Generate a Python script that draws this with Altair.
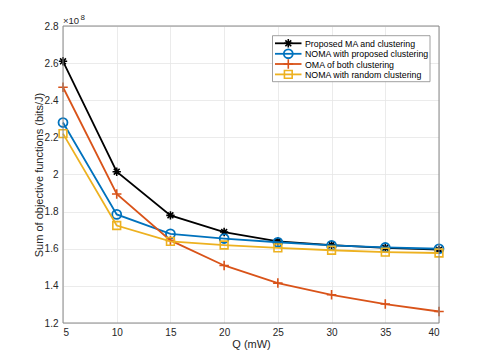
import altair as alt
import pandas as pd

Q = [5, 10, 15, 20, 25, 30, 35, 40]
proposed_ma = [2.61, 2.015, 1.78, 1.69, 1.64, 1.62, 1.605, 1.595]
noma_proposed = [2.28, 1.785, 1.68, 1.655, 1.635, 1.618, 1.607, 1.60]
oma_both = [2.47, 1.895, 1.645, 1.51, 1.415, 1.352, 1.302, 1.262]
noma_random = [2.22, 1.725, 1.64, 1.62, 1.605, 1.592, 1.582, 1.577]

names = ["Proposed MA and clustering", "NOMA with proposed clustering",
         "OMA of both clustering", "NOMA with random clustering"]
series_vals = [proposed_ma, noma_proposed, oma_both, noma_random]
colors = ["#000000", "#0072BD", "#D95319", "#EDB120"]

ASTER = "M-1,0L1,0M0,-1L0,1M-0.7,-0.7L0.7,0.7M-0.7,0.7L0.7,-0.7"
PLUS = "M-1,0L1,0M0,-1L0,1"
shapes = [ASTER, "circle", PLUS, "square"]
sizes = [70, 80, 90, 60]
stroke_w = [1.6, 1.8, 1.6, 1.6]

rows = []
for n, vals in zip(names, series_vals):
    for q, v in zip(Q, vals):
        rows.append({"Q": q, "val": v, "series": n})
df = pd.DataFrame(rows)

FONT = "Liberation Sans"
xs = alt.X("Q:Q", scale=alt.Scale(domain=[5, 40], nice=False),
           axis=alt.Axis(values=list(range(5, 41, 5)), title="Q (mW)",
                         labelFontSize=10, titleFontSize=11, labelPadding=4,
                         titlePadding=1, titleFontWeight="normal",
                         grid=True, ticks=False, domain=False,
                         labelColor="#262626", titleColor="#262626",
                         labelFont=FONT, titleFont=FONT))
ys = alt.Y("val:Q", scale=alt.Scale(domain=[1.2, 2.8], nice=False, zero=False),
           axis=alt.Axis(values=[1.2, 1.4, 1.6, 1.8, 2.0, 2.2, 2.4, 2.6, 2.8],
                         format="~g", title="Sum of objective functions (bits/J)",
                         labelFontSize=10, titleFontSize=11, labelPadding=5,
                         titlePadding=0, titleFontWeight="normal",
                         grid=True, ticks=False, domain=False,
                         labelColor="#262626", titleColor="#262626",
                         labelFont=FONT, titleFont=FONT))

layers = []
for i, n in enumerate(names):
    base = alt.Chart(df).transform_filter(alt.datum.series == n)
    line = base.mark_line(color=colors[i], strokeWidth=1.8).encode(x=xs, y=ys)
    pts = base.mark_point(shape=shapes[i], size=sizes[i], filled=False,
                          stroke=colors[i], strokeWidth=stroke_w[i], opacity=1).encode(x=xs, y=ys)
    layers += [line, pts]

# box frame
frame = alt.Chart(pd.DataFrame({"a": [0]})).mark_rect(
    fill=None, stroke="#888888", strokeWidth=1).encode(
    x=alt.value(0), x2=alt.value(376), y=alt.value(0), y2=alt.value(297))

# legend
lx0, lx1, ly0, ly1 = 209.5, 367, 9.7, 55.7
leg_box = alt.Chart(pd.DataFrame({"a": [0]})).mark_rect(
    fill="white", stroke="#888888", strokeWidth=0.8).encode(
    x=alt.value(lx0), x2=alt.value(lx1), y=alt.value(ly0), y2=alt.value(ly1))
leg_layers = [leg_box]
row_y = [17.3, 27.8, 38.0, 48.4]
for i, n in enumerate(names):
    d = pd.DataFrame({"series": [n]})
    leg_layers.append(alt.Chart(d).mark_rule(color=colors[i], strokeWidth=1.8).encode(
        x=alt.value(212), x2=alt.value(238.5), y=alt.value(row_y[i])))
    leg_layers.append(alt.Chart(d).mark_point(shape=shapes[i], size=sizes[i], filled=False,
                                              stroke=colors[i], strokeWidth=stroke_w[i], opacity=1).encode(
        x=alt.value(225.3), y=alt.value(row_y[i])))
    leg_layers.append(alt.Chart(d).mark_text(align="left", baseline="middle", fontSize=8.8,
                                             font=FONT, color="#000000").encode(
        x=alt.value(242), y=alt.value(row_y[i] + 0.5), text="series:N"))

exp_base = alt.Chart(pd.DataFrame({"t": ["×10"], "s": ["8"]}))
exp_txt = exp_base.mark_text(
    align="left", baseline="alphabetic", fontSize=9.5, font=FONT, color="#262626").encode(
    x=alt.value(0), y=alt.value(-2.5), text="t:N")
exp_sup = exp_base.mark_text(
    align="left", baseline="alphabetic", fontSize=8, font=FONT, color="#262626").encode(
    x=alt.value(17.5), y=alt.value(-6.5), text="s:N")

chart = alt.layer(*layers, frame, *leg_layers, exp_txt, exp_sup).properties(
    width=376, height=297,
    padding={"left": 55, "top": 18, "right": 38, "bottom": 32},
    autosize=alt.AutoSizeParams(type="none"),
).configure_view(stroke=None).configure_axis(gridColor="#e6e6e6", gridWidth=0.8)

chart.save("out.html", embed_options={"renderer": "svg", "actions": False})
